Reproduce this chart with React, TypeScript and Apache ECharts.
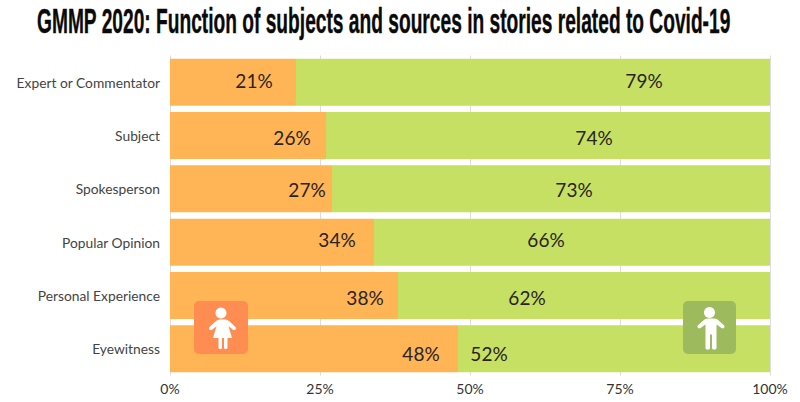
import React, { useEffect, useRef } from "react";
import * as echarts from "echarts";

const titleText = "GMMP 2020: Function of subjects and sources in stories related to Covid-19";
const categories = ["Expert or Commentator", "Subject", "Spokesperson", "Popular Opinion", "Personal Experience", "Eyewitness"];
const women = [21, 26, 27, 34, 38, 48];
const men = [79, 74, 73, 66, 62, 52];
const ticks = [0, 25, 50, 75, 100];
// nudges of the value labels, in pixels, from the segment's centre
const womenLabelShift = [[21, -2], [44, 2], [56, 1], [65, -3], [81, 2], [107, 5]];
const menLabelShift = [[111, -2], [46, 2], [23, 1], [-26, -3], [-57, 2], [-125, 5]];

const womanPath =
  "M27 6.5a5.5 5.5 0 1 1 -0.01 0z M23 18.5h8c2 0 3.5 1 4.5 2l6 5.5c1.5 2 -0.8 4 -2.5 2.8l-4.5 -3.6l3.5 11.8h-4.5v9.5c0 2.2 -3.5 2.2 -3.5 0v-9.5h-2v9.5c0 2.2 -3.5 2.2 -3.5 0v-9.5h-5.5l3.5 -11.8l-4.5 3.6c-1.7 1.2 -4 -0.8 -2.5 -2.8l6 -5.5c1 -1 2.5 -2 4.5 -2z";
const manPath =
  "M26.5 6a5.5 5.5 0 1 1 -0.01 0z M22 17.5h9c2 0 3.3 0.8 4.3 1.8l5.7 5c1.5 2 -0.8 4 -2.5 2.8l-5 -3.6v23.5c0 2.2 -4.5 2.2 -4.5 0v-13.5h-2v13.5c0 2.2 -4.5 2.2 -4.5 0v-23.5l-5 3.6c-1.7 1.2 -4 -0.8 -2.5 -2.8l5.7 -5c1 -1 2.3 -1.8 4.3 -1.8z";

echarts.graphic.registerShape("womanIcon", echarts.graphic.extendPath(womanPath, {}));
echarts.graphic.registerShape("manIcon", echarts.graphic.extendPath(manPath, {}));

const labelStyle = { show: true, position: "inside" as const, color: "#2b2320", fontFamily: "Lato", fontSize: 19, formatter: "{c}%" };

export default function App() {
  const ref = useRef<HTMLDivElement>(null);
  useEffect(() => {
    const chart = echarts.init(ref.current!, undefined, { renderer: "svg" });
    chart.setOption({
      animation: false,
      backgroundColor: "#ffffff",
      textStyle: { fontFamily: "Lato" },
      grid: { left: 170, right: 30, top: 55.5, bottom: 26.5, containLabel: false },
      xAxis: {
        type: "value", min: 0, max: 100, interval: 25,
        axisLine: { show: false }, axisTick: { show: false },
        axisLabel: { formatter: (v: number) => (ticks.includes(v) ? `${v}%` : ""), color: "#333333", fontFamily: "Lato", fontSize: 14, margin: 6 },
        splitLine: { show: true, lineStyle: { color: "#dddddd", width: 1 } },
      },
      yAxis: {
        type: "category", data: categories, inverse: true,
        axisLine: { show: false }, axisTick: { show: false },
        axisLabel: { color: "#444444", fontFamily: "Lato", fontSize: 13.8, margin: 10 },
      },
      series: [
        {
          name: "Women", type: "bar", stack: "all", barWidth: 47,
          itemStyle: { color: "#ffb555" },
          data: women.map((v, i) => ({ value: v, label: { ...labelStyle, offset: womenLabelShift[i] } })),
        },
        {
          name: "Men", type: "bar", stack: "all", barWidth: 47,
          itemStyle: { color: "#c5e063" },
          data: men.map((v, i) => ({ value: v, label: { ...labelStyle, offset: menLabelShift[i] } })),
        },
      ],
      graphic: [
        { type: "text", x: 37, y: 3, scaleX: 0.533, style: { text: titleText, font: "bold 36px 'Liberation Sans'", fill: "#0a0a0a", stroke: "#0a0a0a", lineWidth: 0.4 } },
        { type: "rect", x: 194, y: 301, z: 10, shape: { width: 54, height: 53, r: 5 }, style: { fill: "#ff8c50" } },
        { type: "womanIcon", x: 194, y: 301, z: 11, style: { fill: "#ffffff" } },
        { type: "rect", x: 683, y: 301, z: 10, shape: { width: 53, height: 53, r: 5 }, style: { fill: "#9dbb5c" } },
        { type: "manIcon", x: 683, y: 301, z: 11, style: { fill: "#ffffff" } },
      ],
    });
    return () => chart.dispose();
  }, []);
  return <div ref={ref} style={{ position: "fixed", left: 0, top: 0, width: 800, height: 402 }} />;
}
